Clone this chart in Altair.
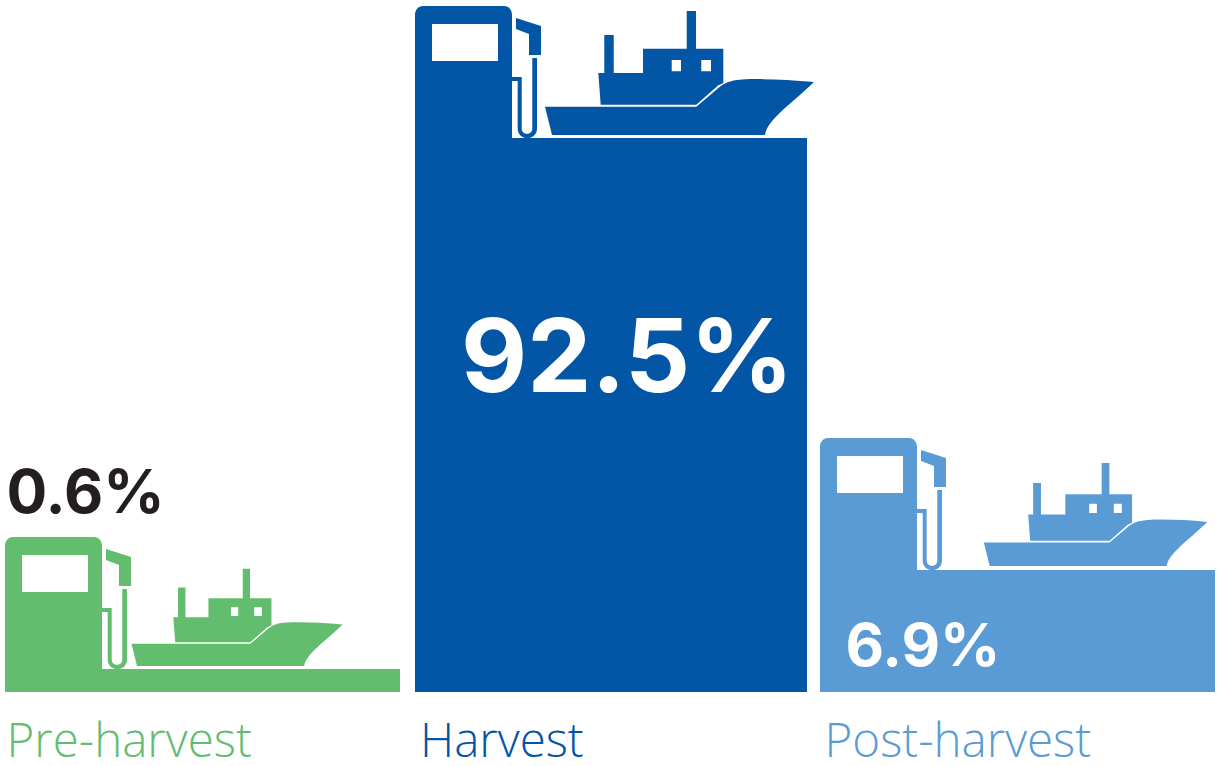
import altair as alt
import pandas as pd

# Share of fuel use by stage of the fishery supply chain
stages = ["Pre-harvest", "Harvest", "Post-harvest"]
shares = [0.6, 92.5, 6.9]
share_labels = ["0.6%", "92.5%", "6.9%"]
colours = ["#62BD6E", "#0355A6", "#5B9BD5"]
order = [0, 1, 2]

# Fuel pump pictogram in pixels: origin at the bar's top centre is applied per stage
def pump_path(left):
    def p(x, y):
        return f"{x + left:.1f},{y:.1f}"
    body = (f"M{p(0, 2)} L{p(0, -123)} C{p(0, -128)} {p(3, -132)} {p(8, -132)} "
            f"L{p(89, -132)} C{p(94, -132)} {p(97, -128)} {p(97, -123)} L{p(97, 2)} Z ")
    window = f"M{p(17, -114)} L{p(17, -77)} L{p(83, -77)} L{p(83, -114)} Z "
    nozzle = (f"M{p(101, -120)} L{p(126, -112)} L{p(126, -83)} L{p(114, -83)} "
              f"L{p(114, -104)} L{p(101, -109)} Z ")
    hose = (f"M{p(96, -61)} L{p(106.7, -61)} L{p(106.7, -9.6)} "
            f"C{p(106.7, -2.5)} {p(117.3, -2.5)} {p(117.3, -9.6)} L{p(117.3, -80)} "
            f"L{p(122, -80)} L{p(122, -9.6)} C{p(122, 3.2)} {p(102.7, 3.2)} {p(102.7, -9.6)} "
            f"L{p(102.7, -57)} L{p(96, -57)} Z")
    return body + window + nozzle + hose

# Trawler pictogram at full size, origin at the stern foot of the hull
SHIP = (
    "M-7,-28.3 L144.3,-28.3 L167.3,-47.7 C172,-51.5 177,-54.5 190,-55.5 "
    "C210,-56.5 235,-55.5 262,-53 C238,-30 215,-15 213,0 L0,0 Z "
    "M48.7,-30.3 L46.3,-62 L52.3,-62 L52.3,-100 L61.7,-100 L61.7,-62 L91,-62 L91,-86.3 "
    "L134.7,-86.3 L134.7,-124 L144,-124 L144,-86.3 L171.3,-86.3 L171.3,-52 "
    "L166,-49.5 L144.3,-30.3 Z "
    "M119.7,-75 L119.7,-63.7 L129,-63.7 L129,-75 Z "
    "M149.3,-75 L149.3,-63.7 L159,-63.7 L159,-75 Z"
)

# Per-stage drawing settings: bar width, pictogram placement and label offsets
layout = [
    dict(width=395, pump_left=-197.5, ship_dx=-65.5, ship_dy=-3, ship_scale=0.785,
         value_dx=-196, value_dy=-156, value_size=60.5),
    dict(width=392, pump_left=-196, ship_dx=-59, ship_dy=-3, ship_scale=1.0,
         value_dx=-150, value_dy=254, value_size=102),
    dict(width=395, pump_left=-197.5, ship_dx=-27.8, ship_dy=-4, ship_scale=0.831,
         value_dx=-172, value_dy=96, value_size=59.5),
]
label_dx = [-196, -191, -193]
value_colours = ["#231F20", "#FFFFFF", "#FFFFFF"]

df = pd.DataFrame({"stage": stages, "share": shares, "label": share_labels, "pos": order})

x_enc = alt.X("pos:Q", axis=None,
              scale=alt.Scale(domain=order, range=[202.5, 611, 1017.5], padding=0))
y_enc = alt.Y("share:Q", axis=None,
              scale=alt.Scale(domain=[0, 0.6, 6.9, 92.5], range=[692, 669, 570, 138]))
colour_enc = alt.Color("stage:N", legend=None,
                       scale=alt.Scale(domain=stages, range=colours))

VALUE_FONT = "Inter"
LABEL_FONT = "Open Sans"

layers = []
for i, opts in enumerate(layout):
    row = alt.Data(values=df.iloc[[i]].to_dict("records"))
    base = alt.Chart(row)
    layers.append(base.mark_bar(width=opts["width"]).encode(
        x=x_enc, y=y_enc, y2=alt.Y2(datum=0), color=colour_enc))
    layers.append(base.mark_point(shape=pump_path(opts["pump_left"]), size=4,
                                  filled=True, opacity=1).encode(
        x=x_enc, y=y_enc, color=colour_enc))
    layers.append(base.mark_point(shape=SHIP, size=4 * opts["ship_scale"] ** 2,
                                  filled=True, opacity=1,
                                  xOffset=opts["ship_dx"], yOffset=opts["ship_dy"]).encode(
        x=x_enc, y=y_enc, color=colour_enc))
    layers.append(base.mark_text(align="left", baseline="alphabetic", font=VALUE_FONT,
                                 fontWeight=700, fontSize=opts["value_size"],
                                 color=value_colours[i],
                                 dx=opts["value_dx"], dy=opts["value_dy"]).encode(
        x=x_enc, y=y_enc, text="label:N"))
    layers.append(base.mark_text(align="left", baseline="alphabetic", font=LABEL_FONT,
                                 fontWeight=300, fontSize=47.5,
                                 dx=label_dx[i]).encode(
        x=x_enc, y=alt.value(757), text="stage:N", color=colour_enc))

chart = alt.layer(*layers).properties(
    width=1223, height=766, padding=0, autosize="none", background="#FFFFFF"
).configure_view(stroke=None)

chart.save("out.html", embed_options={"renderer": "svg", "actions": False})
